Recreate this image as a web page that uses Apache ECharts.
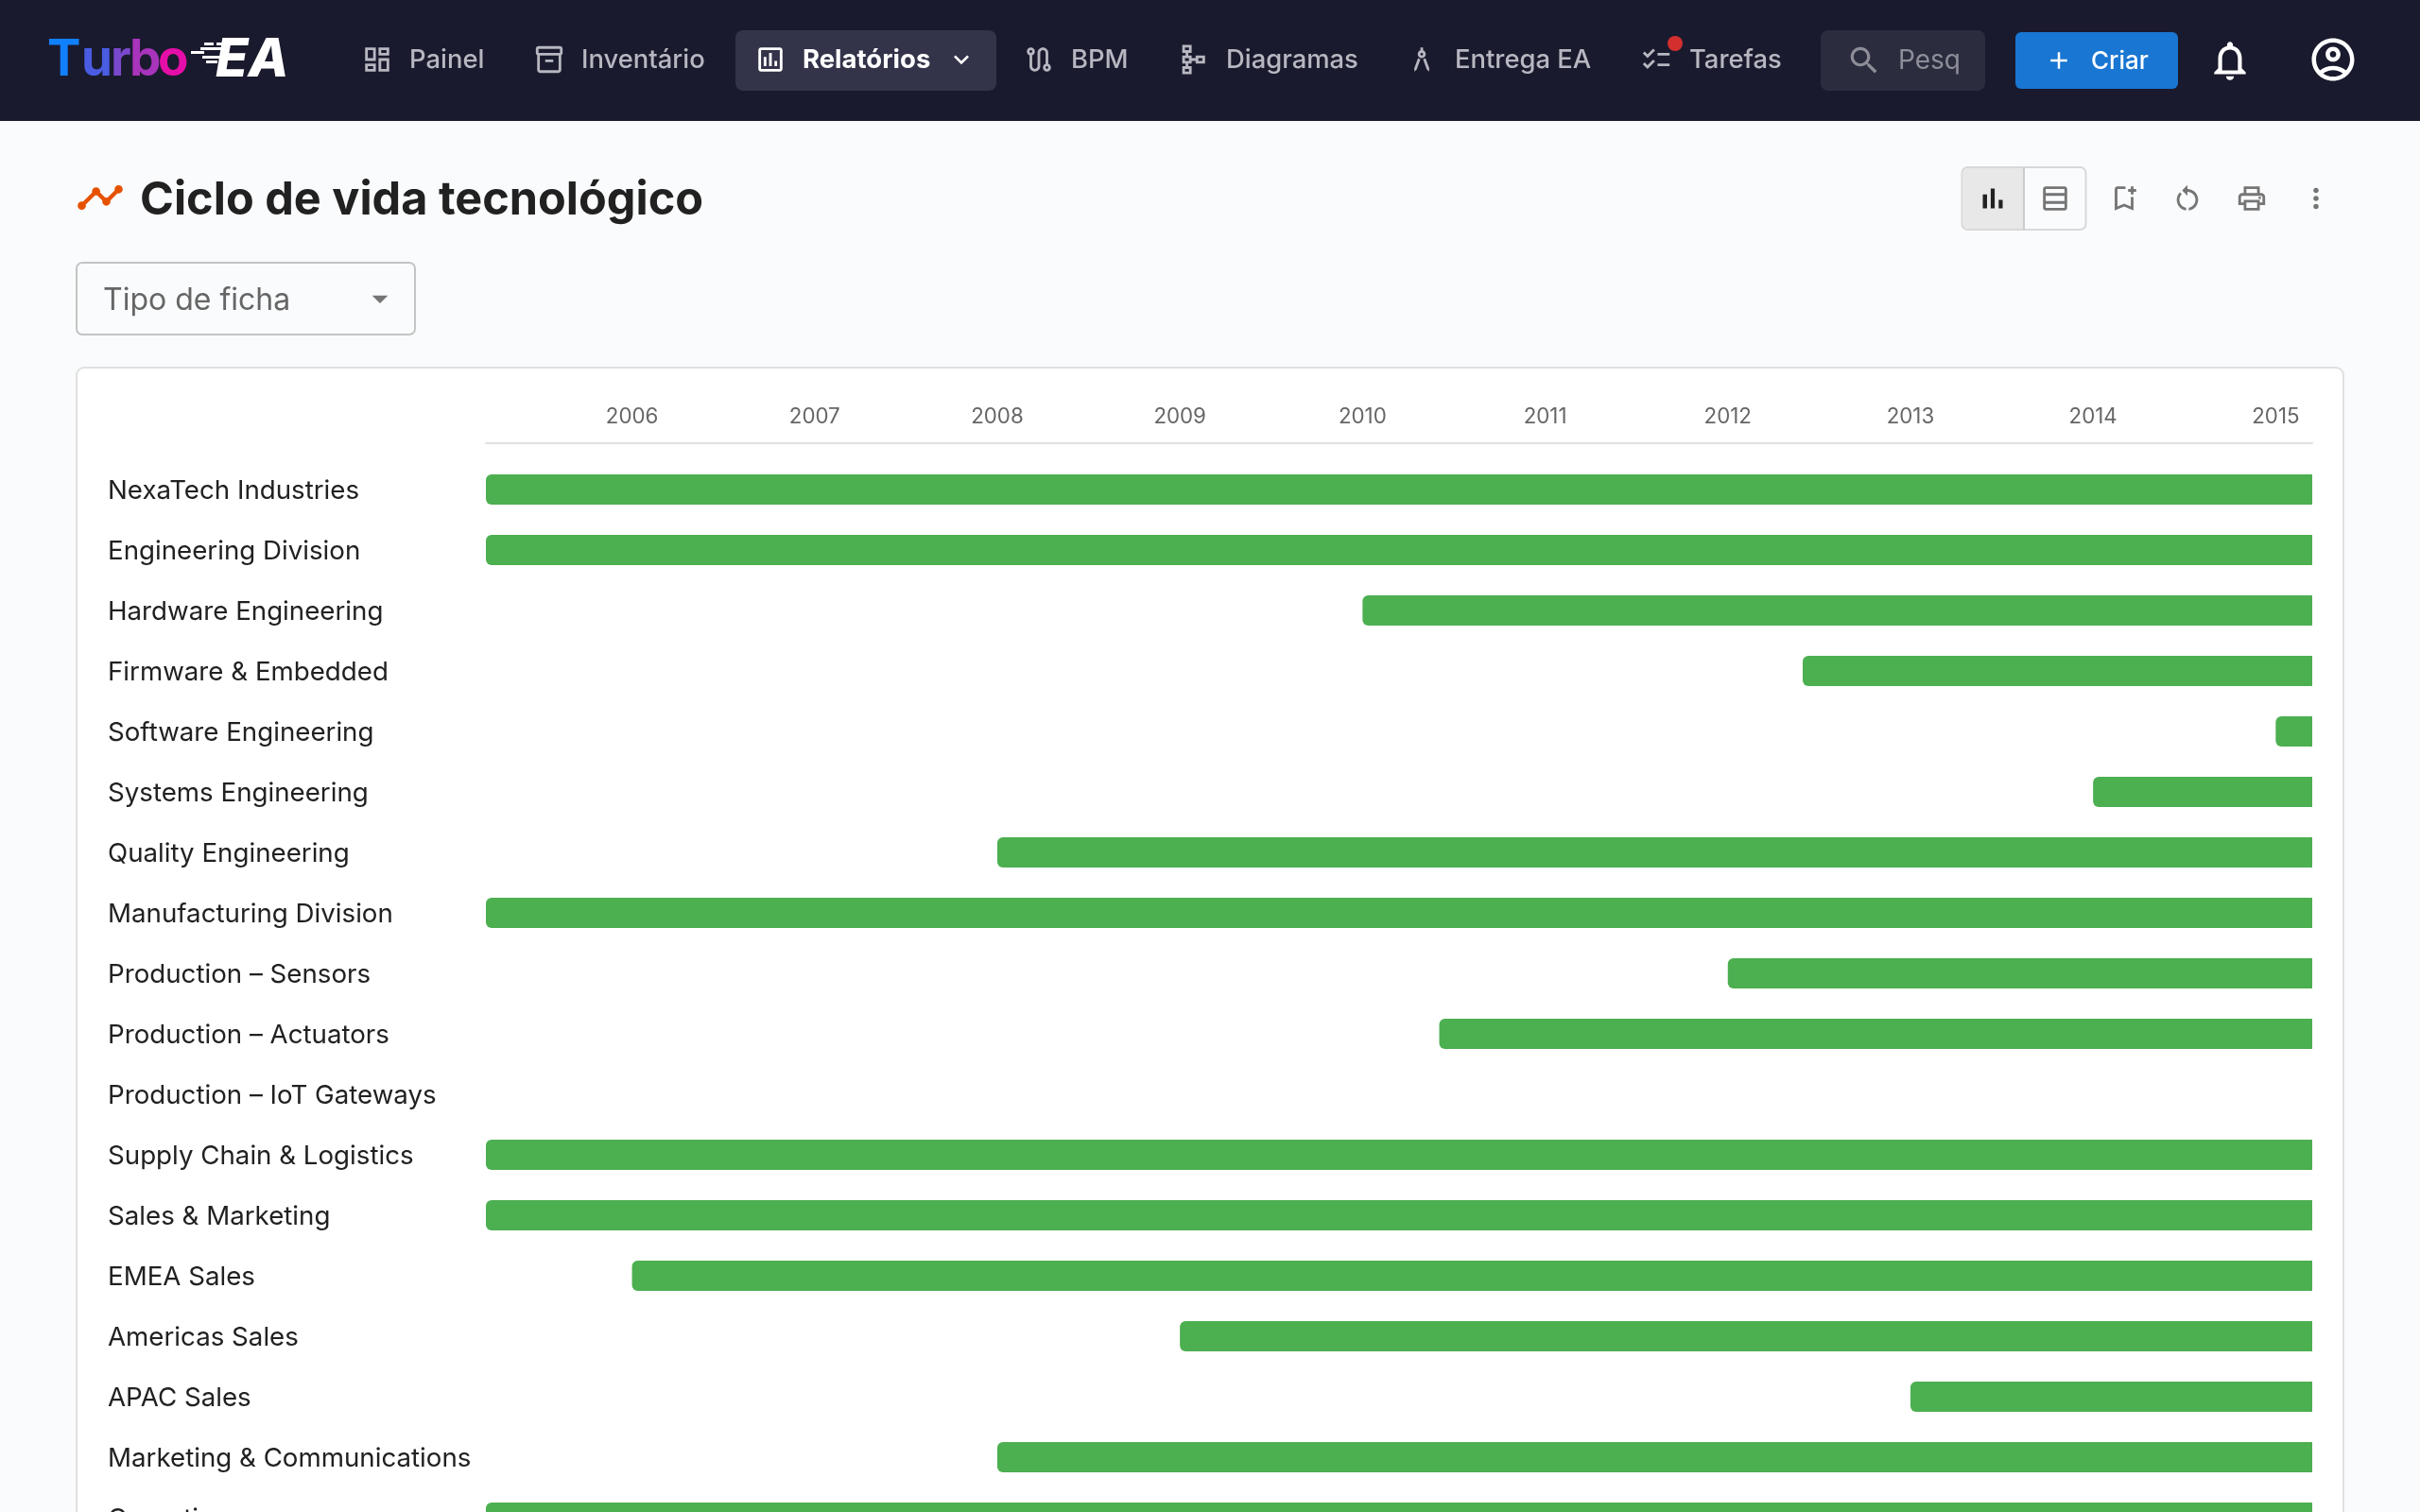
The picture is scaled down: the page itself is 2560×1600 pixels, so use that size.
<!DOCTYPE html>
<html lang="pt">
<head>
    <meta charset="UTF-8">
    <title>Ciclo de vida tecnológico</title>
    <script src="https://cdn.jsdelivr.net/npm/echarts@6/dist/echarts.min.js"></script>
    <style>
        html, body { margin: 0; padding: 0; overflow: hidden; background: #fafbfc; }
    </style>
</head>
<body>
    <div id="chart" style="width: 2560px; height: 1600px;"></div>
    <script>
        // rows of the timeline, top to bottom
        var categories = [
            'NexaTech Industries', 'Engineering Division', 'Hardware Engineering', 'Firmware & Embedded',
            'Software Engineering', 'Systems Engineering', 'Quality Engineering', 'Manufacturing Division',
            'Production – Sensors', 'Production – Actuators', 'Production – IoT Gateways', 'Supply Chain & Logistics',
            'Sales & Marketing', 'EMEA Sales', 'Americas Sales', 'APAC Sales',
            'Marketing & Communications', 'Operations'
        ];
        // year each bar starts (2005.2 is the left edge of the axis)
        var startYears = [
            2005.2, 2005.2, 2010, 2012.41,
            2015, 2014, 2008, 2005.2,
            2012, 2010.42, null, 2005.2,
            2005.2, 2006, 2009, 2013,
            2008, 2005.2
        ];
        var endYear = 2015.2;
        var tickYears = [2006, 2007, 2008, 2009, 2010, 2011, 2012, 2013, 2014, 2015];

        var barLengths = startYears.map(function (s) {
            return s === null ? null : endYear - s;
        });

        var FONT = 'Inter, "Noto Sans", sans-serif';

        // material icons on their 24x24 grid
        var icons = {
            dashboard: 'M19 5v2h-4V5h4M9 5v6H5V5h4m10 8v6h-4v-6h4M9 17v2H5v-2h4M21 3h-8v6h8V3zM11 3H3v10h8V3zm10 8h-8v10h8V11zm-10 4H3v6h8v-6z',
            inventory: 'M20 2H4c-1 0-2 .9-2 2v3.01c0 .72.43 1.34 1 1.69V20c0 1.1 1.1 2 2 2h14c.9 0 2-.9 2-2V8.7c.57-.35 1-.97 1-1.69V4c0-1.1-1-2-2-2zm-1 18H5V9h14v11zm1-13H4V4h16v3zM9 12h6v2H9z',
            assessment: 'M19 3H5c-1.1 0-2 .9-2 2v14c0 1.1.9 2 2 2h14c1.1 0 2-.9 2-2V5c0-1.1-.9-2-2-2zm0 16H5V5h14v14zM7 10h2v7H7zm4-3h2v10h-2zm4 6h2v4h-2z',
            route: 'M19 15.18V7c0-2.21-1.79-4-4-4s-4 1.79-4 4v10c0 1.1-.9 2-2 2s-2-.9-2-2V8.82C8.16 8.4 9 7.3 9 6c0-1.66-1.34-3-3-3S3 4.34 3 6c0 1.3.84 2.4 2 2.82V17c0 2.21 1.79 4 4 4s4-1.79 4-4V7c0-1.1.9-2 2-2s2 .9 2 2v8.18c-1.16.41-2 1.51-2 2.82 0 1.66 1.34 3 3 3s3-1.34 3-3c0-1.3-.84-2.4-2-2.82zM6 7c-.55 0-1-.45-1-1s.45-1 1-1 1 .45 1 1-.45 1-1 1zm12 12c-.55 0-1-.45-1-1s.45-1 1-1 1 .45 1 1-.45 1-1 1z',
            schema: 'M14 9v2h-3V9H8.5V7H11V1H4v6h2.5v2H4v6h2.5v2H4v6h7v-6H8.5v-2H11v-2h3v2h7V9h-7zM9 3v2H6V3h3zm0 18H6v-2h3v2zm0-8H6v-2h3v2zm10 0h-3v-2h3v2z',
            architecture: 'M6.36 18.78L6.61 21l1.62-1.54 2.77-7.6c-.68-.17-1.28-.51-1.77-.98l-2.87 7.9zM14.77 10.88c-.49.47-1.1.81-1.77.98l2.77 7.6L17.39 21l.26-2.22-2.88-7.9zM15 8c0-1.3-.84-2.4-2-2.82V3h-2v2.18C9.84 5.6 9 6.7 9 8c0 1.66 1.34 3 3 3s3-1.34 3-3zm-3 1c-.55 0-1-.45-1-1s.45-1 1-1 1 .45 1 1-.45 1-1 1z',
            checklist: 'M22 7h-9v2h9V7zm0 8h-9v2h9v-2zM5.54 11 2 7.46l1.41-1.41 2.12 2.12 4.24-4.24 1.41 1.41L5.54 11zm0 8L2 15.46l1.41-1.41 2.12 2.12 4.24-4.24 1.41 1.41-5.64 5.66z',
            search: 'M15.5 14h-.79l-.28-.27C15.41 12.59 16 11.11 16 9.5 16 5.91 13.09 3 9.5 3S3 5.91 3 9.5 5.91 16 9.5 16c1.61 0 3.09-.59 4.23-1.57l.27.28v.79l5 4.99L20.49 19l-4.99-5zm-6 0C7.01 14 5 11.99 5 9.5S7.01 5 9.5 5 14 7.01 14 9.5 11.99 14 9.5 14z',
            add: 'M19 13h-6v6h-2v-6H5v-2h6V5h2v6h6v2z',
            bell: 'M12 22c1.1 0 2-.9 2-2h-4c0 1.1.9 2 2 2zm6-6v-5c0-3.07-1.63-5.64-4.5-6.32V4c0-.83-.67-1.5-1.5-1.5s-1.5.67-1.5 1.5v.68C7.64 5.36 6 7.92 6 11v5l-2 2v1h16v-1l-2-2zm-2 1H8v-6c0-2.48 1.51-4.5 4-4.5s4 2.02 4 4.5v6z',
            account: 'M12 2C6.48 2 2 6.48 2 12s4.48 10 10 10 10-4.48 10-10S17.52 2 12 2zM7.35 18.5C8.66 17.56 10.26 17 12 17s3.34.56 4.65 1.5c-1.31.94-2.91 1.5-4.65 1.5s-3.34-.56-4.65-1.5zm10.79-1.38C16.45 15.8 14.32 15 12 15s-4.45.8-6.14 2.12C4.7 15.73 4 13.95 4 12c0-4.42 3.58-8 8-8s8 3.58 8 8c0 1.95-.7 3.73-1.86 5.12zM12 6c-1.93 0-3.5 1.57-3.5 3.5S10.07 13 12 13s3.5-1.57 3.5-3.5S13.93 6 12 6zm0 5c-.83 0-1.5-.67-1.5-1.5S11.17 8 12 8s1.5.67 1.5 1.5S12.83 11 12 11z',
            timeline: 'M23 8c0 1.1-.9 2-2 2-.18 0-.35-.02-.51-.07l-3.56 3.55c.05.16.07.34.07.52 0 1.1-.9 2-2 2s-2-.9-2-2c0-.18.02-.36.07-.52l-2.55-2.55c-.16.05-.34.07-.52.07s-.36-.02-.52-.07l-4.55 4.56c.05.16.07.33.07.51 0 1.1-.9 2-2 2s-2-.9-2-2 .9-2 2-2c.18 0 .35.02.51.07l4.56-4.55C8.02 9.36 8 9.18 8 9c0-1.1.9-2 2-2s2 .9 2 2c0 .18-.02.36-.07.52l2.55 2.55c.16-.05.34-.07.52-.07s.36.02.52.07l3.55-3.56C19.02 8.35 19 8.18 19 8c0-1.1.9-2 2-2s2 .9 2 2z',
            barChart: 'M5 9.2h3V19H5zM10.6 5h2.8v14h-2.8zm5.6 8H19v6h-2.8z',
            tableRows: 'M19 5v3H5V5h14m0 5v4H5v-4h14M5 19v-3h14v3H5M19 3H5c-1.1 0-2 .9-2 2v14c0 1.1.9 2 2 2h14c1.1 0 2-.9 2-2V5c0-1.1-.9-2-2-2z',
            bookmarkAdd: 'M17 11v6.97l-5-2.14-5 2.14V5h6V3H7c-1.1 0-2 .9-2 2v16l7-3 7 3V11h-2zm4-4h-2v2h-2V7h-2V5h2V3h2v2h2v2z',
            restart: 'M12 5V2L8 6l4 4V7c3.31 0 6 2.69 6 6 0 2.97-2.17 5.43-5 5.91v2.02c3.95-.49 7-3.85 7-7.93 0-4.42-3.58-8-8-8zm-6 8c0-1.65.67-3.15 1.76-4.24L6.34 7.34C4.9 8.79 4 10.79 4 13c0 4.08 3.05 7.44 7 7.93v-2.02c-2.83-.48-5-2.94-5-5.91z',
            print: 'M19 8h-1V3H6v5H5c-1.66 0-3 1.34-3 3v6h4v4h12v-4h4v-6c0-1.66-1.34-3-3-3zM8 5h8v3H8V5zm8 12v2H8v-4h8v2zm2-2v-2H6v2H4v-4c0-.55.45-1 1-1h14c.55 0 1 .45 1 1v4h-2zM18 10.5a1 1 0 1 0 0 2 1 1 0 0 0 0-2z',
            moreVert: 'M12 8c1.1 0 2-.9 2-2s-.9-2-2-2-2 .9-2 2 .9 2 2 2zm0 2c-1.1 0-2 .9-2 2s.9 2 2 2 2-.9 2-2-.9-2-2-2zm0 6c-1.1 0-2 .9-2 2s.9 2 2 2 2-.9 2-2-.9-2-2-2z',
            expand: 'M16.59 8.59 12 13.17 7.41 8.59 6 10l6 6 6-6z',
            dropDown: 'M7 10l5 5 5-5z'
        };
        // the graphic component has no plain path type, so each icon gets its own shape
        Object.keys(icons).forEach(function (name) {
            echarts.graphic.registerShape('icon_' + name, echarts.graphic.extendPath(icons[name], {}));
        });

        function icon(name, cx, cy, size, color) {
            return {
                type: 'icon_' + name,
                x: cx - size / 2,
                y: cy - size / 2,
                scaleX: size / 24,
                scaleY: size / 24,
                style: { fill: color }
            };
        }
        function label(text, x, y, size, color, weight) {
            return {
                type: 'text',
                style: {
                    text: text,
                    x: x,
                    y: y,
                    fill: color,
                    font: (weight || 400) + ' ' + size + 'px ' + FONT,
                    textVerticalAlign: 'middle'
                }
            };
        }
        function box(x, y, w, h, r, fill, stroke, lineWidth) {
            return {
                type: 'rect',
                shape: { x: x, y: y, width: w, height: h, r: r },
                style: { fill: fill, stroke: stroke || null, lineWidth: lineWidth || 0 }
            };
        }

        var navItems = [
            { text: 'Painel', icon: 'dashboard', ix: 399, tx: 433 },
            { text: 'Inventário', icon: 'inventory', ix: 581, tx: 615 },
            { text: 'BPM', icon: 'route', ix: 1099, tx: 1133 },
            { text: 'Diagramas', icon: 'schema', ix: 1262, tx: 1297 },
            { text: 'Entrega EA', icon: 'architecture', ix: 1504, tx: 1539 },
            { text: 'Tarefas', icon: 'checklist', ix: 1752, tx: 1787 }
        ];

        var chrome = [
            box(0, 0, 2560, 128, 0, '#1a1a2e'),
            box(81, 389, 2398, 1300, 8, '#ffffff', '#e0e0e0', 2)
        ];
        chrome[1].z = -1;

        // logo, canvas text takes no gradient so every letter has its own colour
        [['T', 50, '#1080ff'], ['u', 86, '#4a5ce2'], ['r', 117, '#7a48cc'], ['b', 137, '#a834bc'], ['o', 167, '#e60ea8']].forEach(function (l) {
            chrome.push(label(l[0], l[1], 64, 53, l[2], 700));
        });
        chrome.push(label('EA', 228, 64, 56, '#ffffff', '800 italic'));
        [[216, 45, 10], [229, 45, 20], [202, 54, 14], [212, 50, 22], [214, 59, 24], [218, 64, 12]].forEach(function (s) {
            chrome.push(box(s[0], s[1], s[2], 3, 0, '#ffffff'));
        });

        // nav bar
        navItems.forEach(function (item) {
            chrome.push(icon(item.icon, item.ix, 63, 34, '#b6b7c0'));
            chrome.push(label(item.text, item.tx, 63.5, 27.4, '#b6b7c0', 500));
        });
        chrome.push(box(778, 32, 276, 64, 8, '#33344a'));
        chrome.push(icon('assessment', 815, 63, 34, '#ffffff'));
        chrome.push(label('Relatórios', 849, 63.5, 27.5, '#ffffff', 700));
        chrome.push(icon('expand', 1017, 63, 32, '#ffffff'));
        chrome.push({ type: 'circle', shape: { cx: 1772, cy: 46, r: 8 }, style: { fill: '#d32f2f' } });

        chrome.push(box(1926, 32, 174, 64, 8, '#2b2c3e'));
        chrome.push(icon('search', 1972, 64, 38, '#8d8e98'));
        chrome.push(label('Pesq', 2008, 65, 28, '#8d8e98', 400));

        chrome.push(box(2132, 34, 172, 60, 6, '#1976d2'));
        chrome.push(icon('add', 2178, 64, 30, '#ffffff'));
        chrome.push(label('Criar', 2212, 65, 26, '#ffffff', 500));
        chrome.push(icon('bell', 2359, 64, 50, '#ffffff'));
        chrome.push(icon('account', 2468, 63, 54, '#ffffff'));

        // page header
        chrome.push(icon('timeline', 106, 209, 52, '#e65100'));
        chrome.push(label('Ciclo de vida tecnológico', 148, 212, 48.6, '#212121', 700));

        chrome.push(box(2075.5, 177, 131, 66, 6, 'transparent', '#d8d8d8', 2));
        chrome.push(box(2076.5, 178, 64, 64, [5, 0, 0, 5], '#e8e8e8'));
        chrome.push(box(2140, 177, 2, 66, 0, '#cccccc'));
        chrome.push(icon('barChart', 2108, 210, 36, '#212121'));
        chrome.push(icon('tableRows', 2174, 210, 34, '#757575'));
        chrome.push(icon('bookmarkAdd', 2247, 210, 34, '#757575'));
        chrome.push(icon('restart', 2314, 210, 34, '#757575'));
        chrome.push(icon('print', 2382, 210, 34, '#757575'));
        chrome.push(icon('moreVert', 2450, 210, 34, '#757575'));

        // filter
        chrome.push(box(81, 278, 358, 76, 6, 'transparent', '#c4c4c4', 2));
        chrome.push(label('Tipo de ficha', 109, 318.5, 32, '#666666', 400));
        chrome.push(icon('dropDown', 402, 316, 40, '#757575'));

        var ehc = echarts.init(document.getElementById('chart'));
        ehc.setOption({
            animation: false,
            backgroundColor: '#fafbfc',
            textStyle: { fontFamily: FONT },
            graphic: chrome,
            grid: {
                left: 514,
                top: 486,
                width: 1932,
                height: 64 * categories.length,
                outerBoundsMode: 'none'
            },
            xAxis: {
                type: 'value',
                position: 'top',
                min: 2005.2,
                max: endYear,
                offset: 17,
                splitLine: { show: false },
                axisTick: { show: false },
                axisLine: { show: true, lineStyle: { color: '#e0e0e0', width: 2 } },
                axisLabel: {
                    customValues: tickYears,
                    formatter: function (v) { return String(v); },
                    color: '#666666',
                    fontSize: 22.3,
                    margin: 17
                }
            },
            yAxis: {
                type: 'category',
                inverse: true,
                data: categories,
                axisLine: { show: false },
                axisTick: { show: false },
                axisLabel: {
                    interval: 0,
                    align: 'left',
                    margin: 400,
                    // plain labels ignore top padding when centred, rich ones nudge down
                    formatter: function (v) { return '{row|' + v + '}'; },
                    rich: {
                        row: { padding: [3.4, 0, 0, 0], color: '#212121', fontSize: 27.7, fontFamily: FONT }
                    }
                }
            },
            series: [{
                name: 'offset',
                type: 'bar',
                stack: 'life',
                barWidth: 32,
                silent: true,
                itemStyle: { color: 'transparent' },
                data: startYears
            }, {
                name: 'Ciclo de vida',
                type: 'bar',
                stack: 'life',
                barWidth: 32,
                itemStyle: { color: '#4caf50', borderRadius: [6, 0, 0, 6] },
                data: barLengths
            }]
        });
    </script>
</body>
</html>
